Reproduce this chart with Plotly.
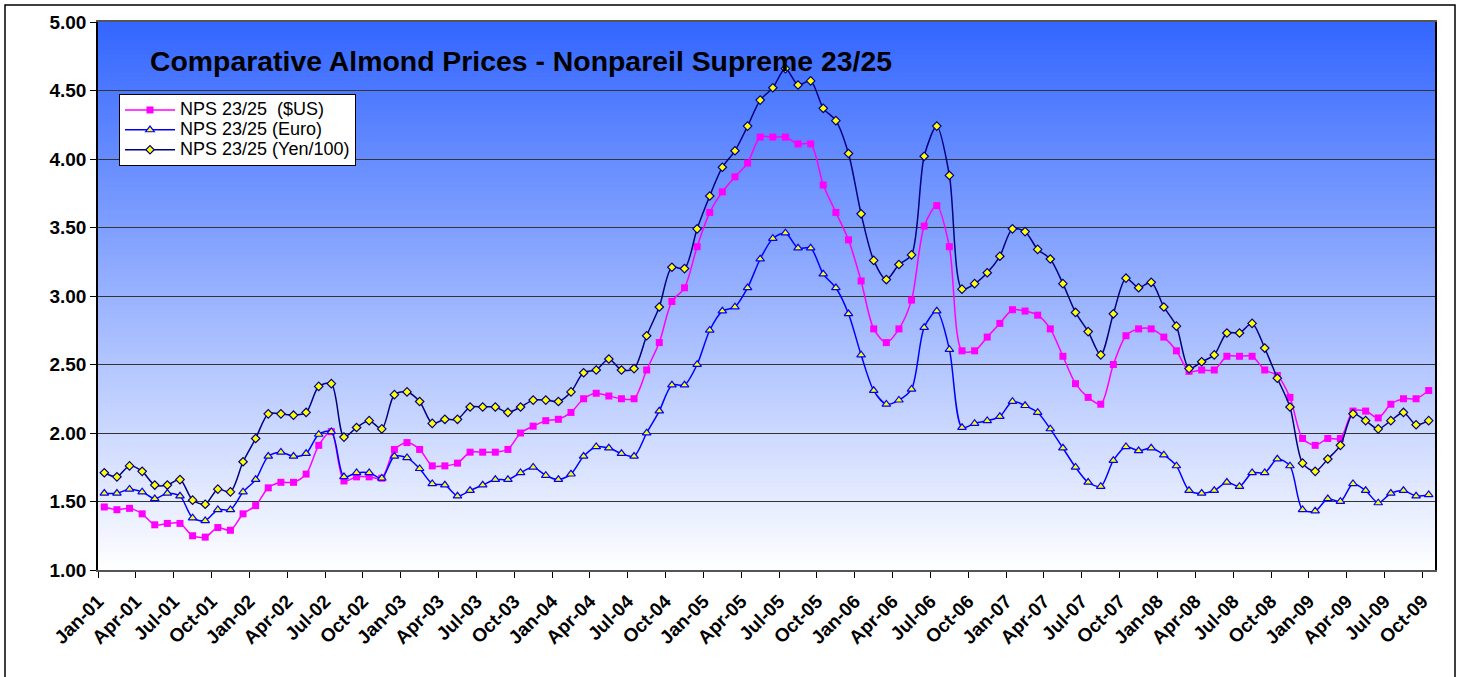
import plotly.graph_objects as go

# ---------------- data ----------------
month_index = list(range(106))  # Jan-01 .. Oct-09, monthly

tick_labels = ["Jan-01", "Apr-01", "Jul-01", "Oct-01",
               "Jan-02", "Apr-02", "Jul-02", "Oct-02",
               "Jan-03", "Apr-03", "Jul-03", "Oct-03",
               "Jan-04", "Apr-04", "Jul-04", "Oct-04",
               "Jan-05", "Apr-05", "Jul-05", "Oct-05",
               "Jan-06", "Apr-06", "Jul-06", "Oct-06",
               "Jan-07", "Apr-07", "Jul-07", "Oct-07",
               "Jan-08", "Apr-08", "Jul-08", "Oct-08",
               "Jan-09", "Apr-09", "Jul-09", "Oct-09"]

usd = [1.46, 1.44, 1.45, 1.41, 1.33, 1.34, 1.34, 1.25, 1.24, 1.31, 1.29, 1.41,
       1.47, 1.60, 1.64, 1.64, 1.70, 1.91, 2.01, 1.65, 1.68, 1.68, 1.67,
       1.88, 1.93, 1.88, 1.76, 1.76, 1.78, 1.86, 1.86, 1.86, 1.88, 2.00, 2.05,
       2.09, 2.10, 2.15, 2.25, 2.29, 2.27, 2.25, 2.25, 2.46, 2.66, 2.96,
       3.06, 3.36, 3.61, 3.76, 3.87, 3.97, 4.16, 4.16, 4.16, 4.11, 4.11,
       3.81, 3.61, 3.41, 3.11, 2.76, 2.66, 2.76, 2.97, 3.51, 3.66,
       3.36, 2.60, 2.60, 2.70, 2.80, 2.90, 2.89, 2.86, 2.76, 2.56,
       2.36, 2.26, 2.21, 2.50, 2.71, 2.76, 2.76, 2.70, 2.60, 2.45,
       2.46, 2.46, 2.56, 2.56, 2.56, 2.46, 2.42, 2.26, 1.96, 1.91,
       1.96, 1.96, 2.16, 2.16, 2.11, 2.21, 2.25, 2.25, 2.31]

euro = [1.56, 1.56, 1.59, 1.57, 1.52, 1.56, 1.54, 1.38, 1.36, 1.44, 1.44, 1.57,
        1.66, 1.83, 1.86, 1.83, 1.85, 1.99, 2.01, 1.68, 1.71, 1.71, 1.67,
        1.83, 1.82, 1.74, 1.63, 1.62, 1.54, 1.58, 1.62, 1.66, 1.66, 1.71, 1.75,
        1.69, 1.66, 1.70, 1.83, 1.90, 1.89, 1.85, 1.83, 2.00, 2.16, 2.35,
        2.35, 2.50, 2.75, 2.89, 2.92, 3.06, 3.27, 3.42, 3.46, 3.35, 3.35,
        3.16, 3.06, 2.87, 2.57, 2.31, 2.21, 2.24, 2.32, 2.77, 2.89,
        2.61, 2.04, 2.07, 2.09, 2.12, 2.23, 2.20, 2.15, 2.03, 1.89,
        1.75, 1.64, 1.61, 1.80, 1.90, 1.87, 1.89, 1.84, 1.76, 1.58,
        1.56, 1.58, 1.64, 1.61, 1.71, 1.71, 1.81, 1.76, 1.44, 1.43,
        1.52, 1.50, 1.63, 1.58, 1.49, 1.56, 1.58, 1.54, 1.55]

yen = [1.71, 1.68, 1.76, 1.72, 1.62, 1.62, 1.66, 1.51, 1.48, 1.59, 1.57, 1.79,
       1.96, 2.14, 2.14, 2.13, 2.15, 2.34, 2.36, 1.97, 2.04, 2.09, 2.03,
       2.28, 2.30, 2.23, 2.07, 2.10, 2.10, 2.19, 2.19, 2.19, 2.15, 2.19, 2.24,
       2.24, 2.23, 2.30, 2.44, 2.46, 2.54, 2.46, 2.47, 2.71, 2.92, 3.21,
       3.20, 3.49, 3.73, 3.94, 4.06, 4.24, 4.43, 4.52, 4.66, 4.54, 4.57,
       4.37, 4.28, 4.04, 3.60, 3.26, 3.12, 3.23, 3.30, 4.02, 4.24,
       3.88, 3.05, 3.09, 3.17, 3.29, 3.49, 3.47, 3.34, 3.27, 3.09,
       2.88, 2.74, 2.57, 2.87, 3.13, 3.06, 3.10, 2.92, 2.78, 2.47,
       2.52, 2.57, 2.73, 2.73, 2.80, 2.62, 2.40, 2.19, 1.78, 1.72,
       1.81, 1.91, 2.14, 2.09, 2.03, 2.09, 2.15, 2.06, 2.09]

series_names = ["NPS 23/25\u00a0 ($US)", "NPS 23/25 (Euro)", "NPS 23/25 (Yen/100)"]
title_text = "Comparative Almond Prices - Nonpareil Supreme 23/25"

# ---------------- figure ----------------
W, H = 1461, 677
L, R, T, B = 98, 26, 22, 107
FONT = "Arial, Liberation Sans, Helvetica, sans-serif"


def legend_label(s):
    return '<span style="font-size:18px">' + s + '</span>'


fig = go.Figure()

fig.add_trace(go.Scatter(
    x=month_index, y=usd, name=legend_label(series_names[0]), mode="lines+markers",
    line=dict(color="#FF00FF", width=1.5, shape="spline", smoothing=0.8),
    marker=dict(symbol="square", size=7, color="#FF00FF", line=dict(width=0)),
))
fig.add_trace(go.Scatter(
    x=month_index, y=euro, name=legend_label(series_names[1]), mode="lines+markers",
    line=dict(color="#0000FF", width=1.5, shape="spline", smoothing=0.8),
    marker=dict(symbol="triangle-up", size=7.5, color="#FFFF00",
                line=dict(color="#0000FF", width=1.2)),
))
fig.add_trace(go.Scatter(
    x=month_index, y=yen, name=legend_label(series_names[2]), mode="lines+markers",
    line=dict(color="#000080", width=1.5, shape="spline", smoothing=0.8),
    marker=dict(symbol="diamond", size=6.5, color="#FFFF00",
                line=dict(color="#000080", width=1.2)),
))

# gradient plot background (blue at top -> white at bottom)
n_bands = 120
top_rgb = (51, 102, 255)
shapes = []
for k in range(n_bands):
    f0 = k / n_bands
    f1 = (k + 1) / n_bands
    fm = (f0 + f1) / 2  # 0 bottom, 1 top
    r = round(255 + (top_rgb[0] - 255) * fm)
    g = round(255 + (top_rgb[1] - 255) * fm)
    b = round(255 + (top_rgb[2] - 255) * fm)
    shapes.append(dict(type="rect", xref="x domain", yref="y domain",
                       x0=0, x1=1, y0=f0, y1=f1 + 0.002, layer="below",
                       line=dict(width=0), fillcolor=f"rgb({r},{g},{b})"))

# outer chart border (bottom edge lies just outside the canvas)
pw = W - L - R
ph = H - T - B
shapes.append(dict(type="rect", xref="paper", yref="paper",
                   x0=(5 - L) / pw, x1=(1455 - L) / pw,
                   y0=(H - B - 682) / ph, y1=(H - B - 5) / ph,
                   line=dict(color="black", width=1.5), fillcolor="rgba(0,0,0,0)",
                   layer="above"))

fig.update_layout(
    width=W, height=H,
    margin=dict(l=L, r=R, t=T, b=B, pad=0),
    paper_bgcolor="white",
    plot_bgcolor="white",
    font=dict(family=FONT, color="black"),
    shapes=shapes,
    showlegend=True,
    legend=dict(x=(119 - L) / pw, y=(H - B - 94) / ph, xanchor="left", yanchor="top",
                bgcolor="white", bordercolor="black", borderwidth=1,
                font=dict(family=FONT, size=13, color="black"),
                tracegroupgap=0, itemwidth=50),
    annotations=[dict(text="<b>" + title_text + "</b>", xref="paper", yref="paper",
                      x=(148 - L) / pw, y=(H - B - 61) / ph, xanchor="left",
                      yanchor="middle", showarrow=False,
                      font=dict(family=FONT, size=28.4, color="black"))],
)

fig.update_xaxes(
    range=[-0.5, 105.5],
    tickmode="array",
    tickvals=[-0.5 + 3 * k for k in range(len(tick_labels))],
    ticktext=["<b>" + t + "</b>" for t in tick_labels],
    tickangle=-45,
    tickfont=dict(family=FONT, size=19, color="black"),
    ticks="outside", ticklen=6, tickcolor="black", tickwidth=1,
    ticklabelstandoff=5,
    showgrid=False, zeroline=False,
    showline=True, linecolor="#555555", linewidth=1.5, mirror=True,
)
fig.update_yaxes(
    range=[1, 5], dtick=0.5, tick0=1, tickformat=".2f",
    tickfont=dict(family=FONT, size=19, color="black"),
    ticks="outside", ticklen=6, tickcolor="black", tickwidth=1,
    showgrid=True, gridcolor="#333333", gridwidth=1, zeroline=False,
    showline=True, linecolor="black", linewidth=1.5, mirror=True,
    layer="above traces",
)
fig.update_yaxes(tickprefix="<b>", ticksuffix="</b>")

fig.write_html("out.html",
               config={"displayModeBar": False},
               post_script="document.body.style.margin='0';document.body.style.overflow='hidden';")
